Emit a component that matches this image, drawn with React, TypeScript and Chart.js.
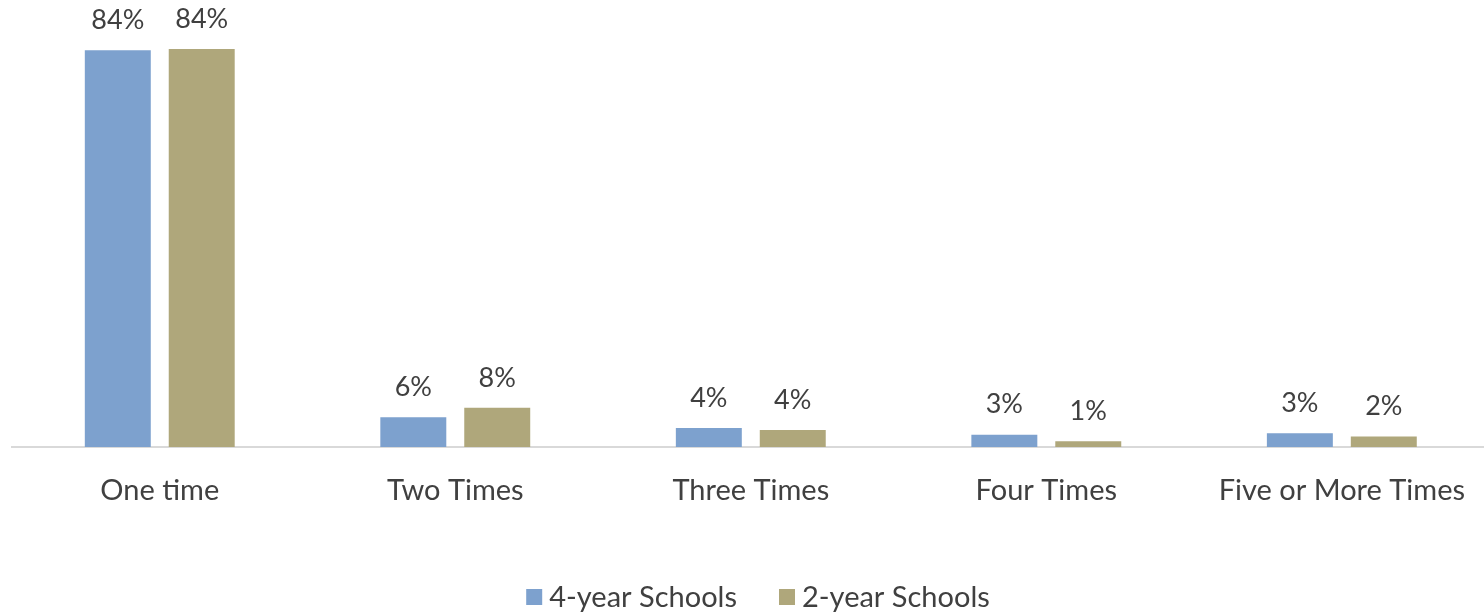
import React, { useEffect, useRef } from "react";
import { Chart, registerables } from "chart.js";

Chart.register(...registerables);

const categories = ["One time", "Two Times", "Three Times", "Four Times", "Five or More Times"];
const fourYear = [84.0, 6.3, 4.0, 2.6, 2.9];
const twoYear = [84.3, 8.3, 3.6, 1.2, 2.2];
const seriesNames = ["4-year Schools", "2-year Schools"];
const seriesColors = ["#7DA1CE", "#AFA77B"];

const FONT = "Lato, 'Open Sans', sans-serif";
const TEXT = "#404040";

const labelPlugin = {
  id: "barLabels",
  afterDatasetsDraw(chart: any) {
    const ctx = chart.ctx;
    ctx.save();
    ctx.font = `27px ${FONT}`;
    ctx.fillStyle = TEXT;
    ctx.textAlign = "center";
    ctx.textBaseline = "middle";
    chart.data.datasets.forEach((ds: any, di: number) => {
      const meta = chart.getDatasetMeta(di);
      meta.data.forEach((el: any, i: number) => {
        const v = ds.data[i];
        ctx.fillText(`${Math.round(v)}%`, el.x, el.y - 30);
      });
    });
    ctx.restore();
  },
};

const legendPlugin = {
  id: "bottomLegend",
  afterDraw(chart: any) {
    const ctx = chart.ctx;
    ctx.save();
    ctx.font = `29px ${FONT}`;
    ctx.textBaseline = "middle";
    const box = 16;
    const gapText = 7;
    const gapItem = 42;
    const widths = seriesNames.map((n) => box + gapText + ctx.measureText(n).width);
    const total = widths.reduce((a, b) => a + b, 0) + gapItem * (widths.length - 1);
    const cx = 758;
    let x = cx - total / 2;
    const y = 597;
    seriesNames.forEach((n, i) => {
      ctx.fillStyle = seriesColors[i];
      ctx.fillRect(x, y - box / 2, box, box);
      ctx.fillStyle = TEXT;
      ctx.textAlign = "left";
      ctx.fillText(n, x + box + gapText, y + 1);
      x += widths[i] + gapItem;
    });
    ctx.restore();
  },
};

const CW = 1491;
const CH = 613;

export default function App() {
  const ref = useRef<HTMLCanvasElement | null>(null);
  useEffect(() => {
    document.body.style.margin = "0";
    const chart = new Chart(ref.current as HTMLCanvasElement, {
      type: "bar",
      data: {
        labels: categories,
        datasets: [
          {
            label: seriesNames[0],
            data: fourYear,
            backgroundColor: seriesColors[0],
            barPercentage: 0.786,
            categoryPercentage: 0.568,
          },
          {
            label: seriesNames[1],
            data: twoYear,
            backgroundColor: seriesColors[1],
            barPercentage: 0.786,
            categoryPercentage: 0.568,
          },
        ],
      },
      options: {
        responsive: false,
        animation: false,
        layout: { padding: { left: 12, right: 0, top: 22, bottom: 0 } },
        plugins: {
          legend: { display: false },
          tooltip: { enabled: false },
        },
        scales: {
          x: {
            grid: { display: false, drawTicks: false },
            border: { display: true, color: "#D9D9D9", width: 2 },
            ticks: {
              color: TEXT,
              font: { family: FONT, size: 29 },
              padding: 26,
              maxRotation: 0,
              autoSkip: false,
            },
            afterFit(scale: any) {
              scale.height = 166;
            },
          },
          y: {
            display: false,
            min: 0,
            max: 90,
          },
        },
      },
      plugins: [labelPlugin, legendPlugin],
    });
    return () => chart.destroy();
  }, []);
  return (
    <div style={{ position: "absolute", left: 0, top: 0, width: 1484, height: 613, overflow: "hidden", background: "#fff" }}>
      <canvas ref={ref} width={CW} height={CH} style={{ width: CW, height: CH, display: "block" }} />
    </div>
  );
}
